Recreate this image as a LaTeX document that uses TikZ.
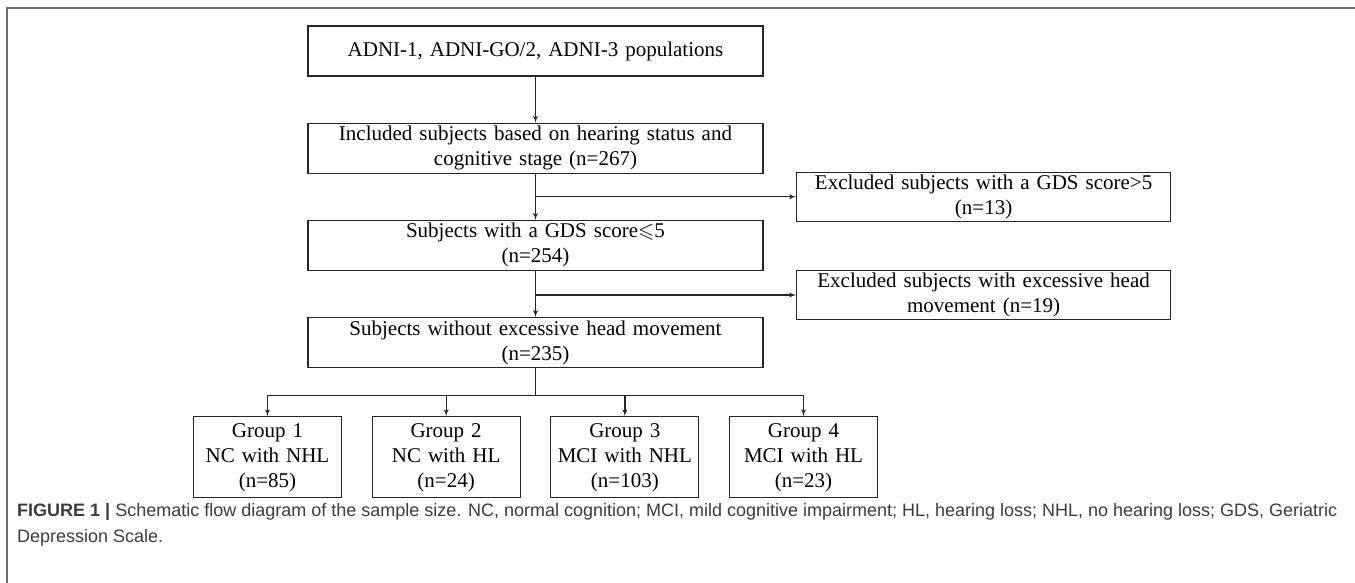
\documentclass[tikz,border=0pt]{standalone}
\usepackage{fontspec}
\usepackage{amsmath}
\usepackage{amssymb}
\setmainfont{Liberation Serif}
\newfontfamily\captionfont{Liberation Sans}
\definecolor{framegray}{RGB}{110,110,110}
\definecolor{captext}{RGB}{60,60,60}
\usetikzlibrary{shapes.geometric, arrows, positioning}

\begin{document}
\begin{tikzpicture}[
            x=1pt, y=1pt,
            node distance=46pt,
            auto,
            block/.style={rectangle, draw=black!85, line width=1.2pt, text width=445pt, text centered, inner xsep=5pt, inner ysep=1pt, minimum height=50pt, font=\fontsize{21}{25}\selectfont},
            exbox/.style={block, text width=364pt, minimum height=49pt},
            group/.style={block, text width=138pt, minimum height=81pt},
            line/.style={draw=black!85, -latex', line width=1.3pt}
        ]
            \useasboundingbox (0,0) rectangle (1355,583);
            \draw[framegray, line width=1.5pt] (7,0) -- (7,575) -- (1355,575);

            % Nodes
            \node [block] (adni) at (535.5,532) {ADNI-1, ADNI-GO/2, ADNI-3 populations};
            \node [block, below=of adni] (incl) {Included subjects based on hearing status and\\ cognitive stage (n=267)};
            \node [block, below=of incl] (gds) {Subjects with a GDS score$\leqslant$5\\ (n=254)};
            \node [block, below=of gds] (head) {Subjects without excessive head movement\\ (n=235)};

            % Exclusions
            \coordinate [below=23pt of incl] (jgds);
            \coordinate [below=24pt of gds] (jhead);
            \node [exbox, right=260.5pt of jgds] (exgds) {Excluded subjects with a GDS score>5\\ (n=13)};
            \node [exbox, right=260.5pt of jhead] (exhead) {Excluded subjects with excessive head\\ movement (n=19)};

            % Groups
            \coordinate [below=27pt of head] (split);
            \node [group, below left=48pt and 14.75pt of head.south] (grp2) {Group 2\\ NC with HL\\ (n=24)};
            \node [group, left=29.5pt of grp2] (grp1) {Group 1\\ NC with NHL\\ (n=85)};
            \node [group, below right=48pt and 14.75pt of head.south] (grp3) {Group 3\\ MCI with NHL\\ (n=103)};
            \node [group, right=29.5pt of grp3] (grp4) {Group 4\\ MCI with HL\\ (n=23)};

            % Caption
            \node [anchor=base west, align=left, inner sep=0pt, text=captext, font=\captionfont\fontsize{18}{26}\selectfont] (caption) at (17,40)
                {\textbf{FIGURE 1 |} Schematic flow diagram of the sample size. NC, normal cognition; MCI, mild cognitive impairment; HL, hearing loss; NHL, no hearing loss; GDS, Geriatric\\ Depression Scale.};

            % Edges
            \path [line] (adni) -- (incl);
            \path [line] (incl) -- (gds);
            \path [line] (gds) -- (head);
            \path [line] (jgds) -- (exgds);
            \path [line] (jhead) -- (exhead);
            \draw [draw=black!85, line width=1.3pt] (head) -- (split);
            \path [line] (split) -| (grp1);
            \path [line] (split) -| (grp2);
            \path [line] (split) -| (grp3);
            \path [line] (split) -| (grp4);
        \end{tikzpicture}
\end{document}
